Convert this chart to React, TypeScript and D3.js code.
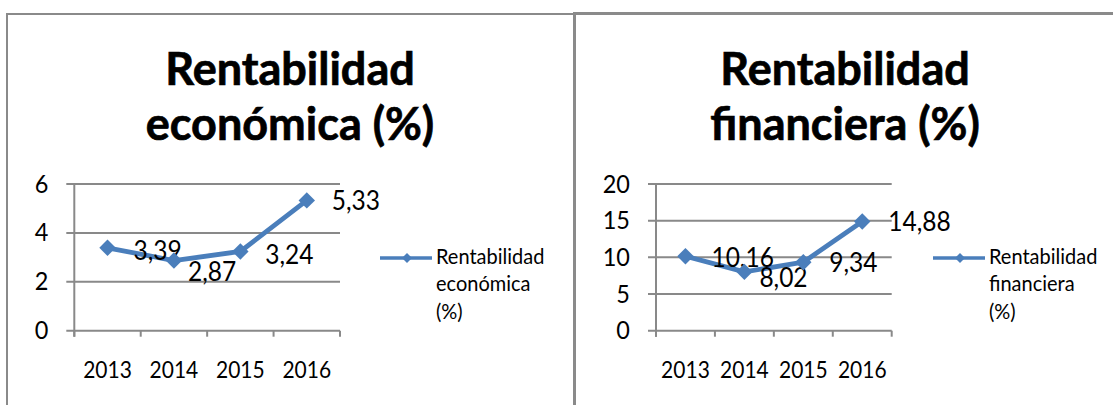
import React from "react";
import * as d3 from "d3";

const years = ["2013", "2014", "2015", "2016"];
const economica = [3.39, 2.87, 3.24, 5.33];
const financiera = [10.16, 8.02, 9.34, 14.88];
const econTicks = [0, 2, 4, 6];
const finTicks = [0, 5, 10, 15, 20];
const econTitle = ["Rentabilidad", "económica (%)"];
const finTitle = ["Rentabilidad", "financiera (%)"];
const econLegend = ["Rentabilidad", "económica", "(%)"];
const finLegend = ["Rentabilidad", "financiera", "(%)"];

const BLUE = "#4A7EBB";
const GRID = "#898989";
const FONT = "Lato, 'Open Sans', sans-serif";

type ChartProps = {
  title: string[];
  legend: string[];
  values: number[];
  ticks: number[];
  x0: number;
  x1: number;
  titleX: number;
  legendX: number;
  labelDx: number[];
  labelDy: number[];
};

function T(props: {
  x: number;
  y: number;
  size: number;
  anchor?: string;
  bold?: boolean;
  sy?: number;
  children: React.ReactNode;
}) {
  const sy = props.sy ?? 1.08;
  return (
    <text
      transform={`translate(${props.x},${props.y}) scale(1,${sy})`}
      textAnchor={props.anchor || "start"}
      fontFamily={FONT}
      fontWeight={props.bold ? "bold" : "normal"}
      fontSize={props.size}
      fill="#000"
      stroke={props.bold ? "#000" : "none"}
      strokeWidth={props.bold ? 0.7 : 0}
    >
      {props.children}
    </text>
  );
}

function Chart(p: ChartProps) {
  const yBottom = 330.7;
  const yTop = 184;
  const x = d3.scaleBand<string>().domain(years).range([p.x0, p.x1]).padding(0);
  const y = d3
    .scaleLinear()
    .domain([0, d3.max(p.ticks) as number])
    .range([yBottom, yTop]);
  const line = d3
    .line<number>()
    .x((_, i) => (x(years[i]) as number) + x.bandwidth() / 2)
    .y((d) => y(d));
  const diamond = d3.symbol().type(d3.symbolSquare).size(135)();
  const smallDiamond = d3.symbol().type(d3.symbolSquare).size(50)();
  const fmt = (v: number) => v.toFixed(2).replace(".", ",");
  const boundaries = years.map((yr) => x(yr) as number).concat([p.x1]);
  const legendY = 258;
  return (
    <g>
      {p.title.map((t, i) => (
        <T key={t} x={p.titleX} y={85 + i * 55} anchor="middle" bold size={45} sy={1.03}>
          {t}
        </T>
      ))}
      {p.ticks.map((t) => (
        <g key={t}>
          <line x1={p.x0 - 8} x2={p.x1} y1={y(t)} y2={y(t)} stroke={GRID} strokeWidth={2} />
          <T x={p.x0 - 26} y={y(t) + 8.5} anchor="end" size={23.5}>
            {t}
          </T>
        </g>
      ))}
      <line x1={p.x0} x2={p.x0} y1={yTop} y2={yBottom + 6} stroke={GRID} strokeWidth={2} />
      {boundaries.map((b, i) => (
        <line key={i} x1={b} x2={b} y1={yBottom} y2={yBottom + 6} stroke={GRID} strokeWidth={2} />
      ))}
      {years.map((yr) => (
        <T key={yr} x={(x(yr) as number) + x.bandwidth() / 2} y={377.5} anchor="middle" size={21}>
          {yr}
        </T>
      ))}
      <path d={line(p.values) || ""} fill="none" stroke={BLUE} strokeWidth={4.8} strokeLinejoin="round" />
      {p.values.map((v, i) => {
        const cx = (x(years[i]) as number) + x.bandwidth() / 2;
        const cy = y(v);
        return (
          <g key={i}>
            <path d={diamond || ""} transform={`translate(${cx},${cy}) rotate(45)`} fill={BLUE} />
            <T x={cx + p.labelDx[i]} y={cy + p.labelDy[i] + 9} size={24.5}>
              {fmt(v)}
            </T>
          </g>
        );
      })}
      <line x1={p.legendX} x2={p.legendX + 52} y1={legendY} y2={legendY} stroke={BLUE} strokeWidth={3.5} />
      <path d={smallDiamond || ""} transform={`translate(${p.legendX + 27},${legendY}) rotate(45)`} fill={BLUE} />
      {p.legend.map((t, i) => (
        <T key={t} x={p.legendX + 56} y={263.5 + i * 27.5} size={20}>
          {t}
        </T>
      ))}
    </g>
  );
}

export default function App() {
  return (
    <svg
      width={1113}
      height={405}
      style={{ position: "absolute", left: 0, top: 0, background: "#fff" }}
    >
      <rect x={0} y={0} width={1113} height={405} fill="#fff" />
      <line x1={6} x2={574} y1={14} y2={14} stroke="#8a8a8a" strokeWidth={2} />
      <line x1={7} x2={7} y1={13} y2={405} stroke="#8a8a8a" strokeWidth={2} />
      <line x1={574.5} x2={574.5} y1={12} y2={405} stroke="#8a8a8a" strokeWidth={3} />
      <line x1={573} x2={1113} y1={13.5} y2={13.5} stroke="#8a8a8a" strokeWidth={3} />
      <Chart
        title={econTitle}
        legend={econLegend}
        values={economica}
        ticks={econTicks}
        x0={74.3}
        x1={340}
        titleX={290}
        legendX={380}
        labelDx={[26, 14, 25, 25]}
        labelDy={[3, 11, 4, 1]}
      />
      <Chart
        title={finTitle}
        legend={finLegend}
        values={financiera}
        ticks={finTicks}
        x0={656}
        x1={891.7}
        titleX={845}
        legendX={933}
        labelDx={[26, 15, 26, 26]}
        labelDy={[2, 6.5, 1, 0]}
      />
    </svg>
  );
}
